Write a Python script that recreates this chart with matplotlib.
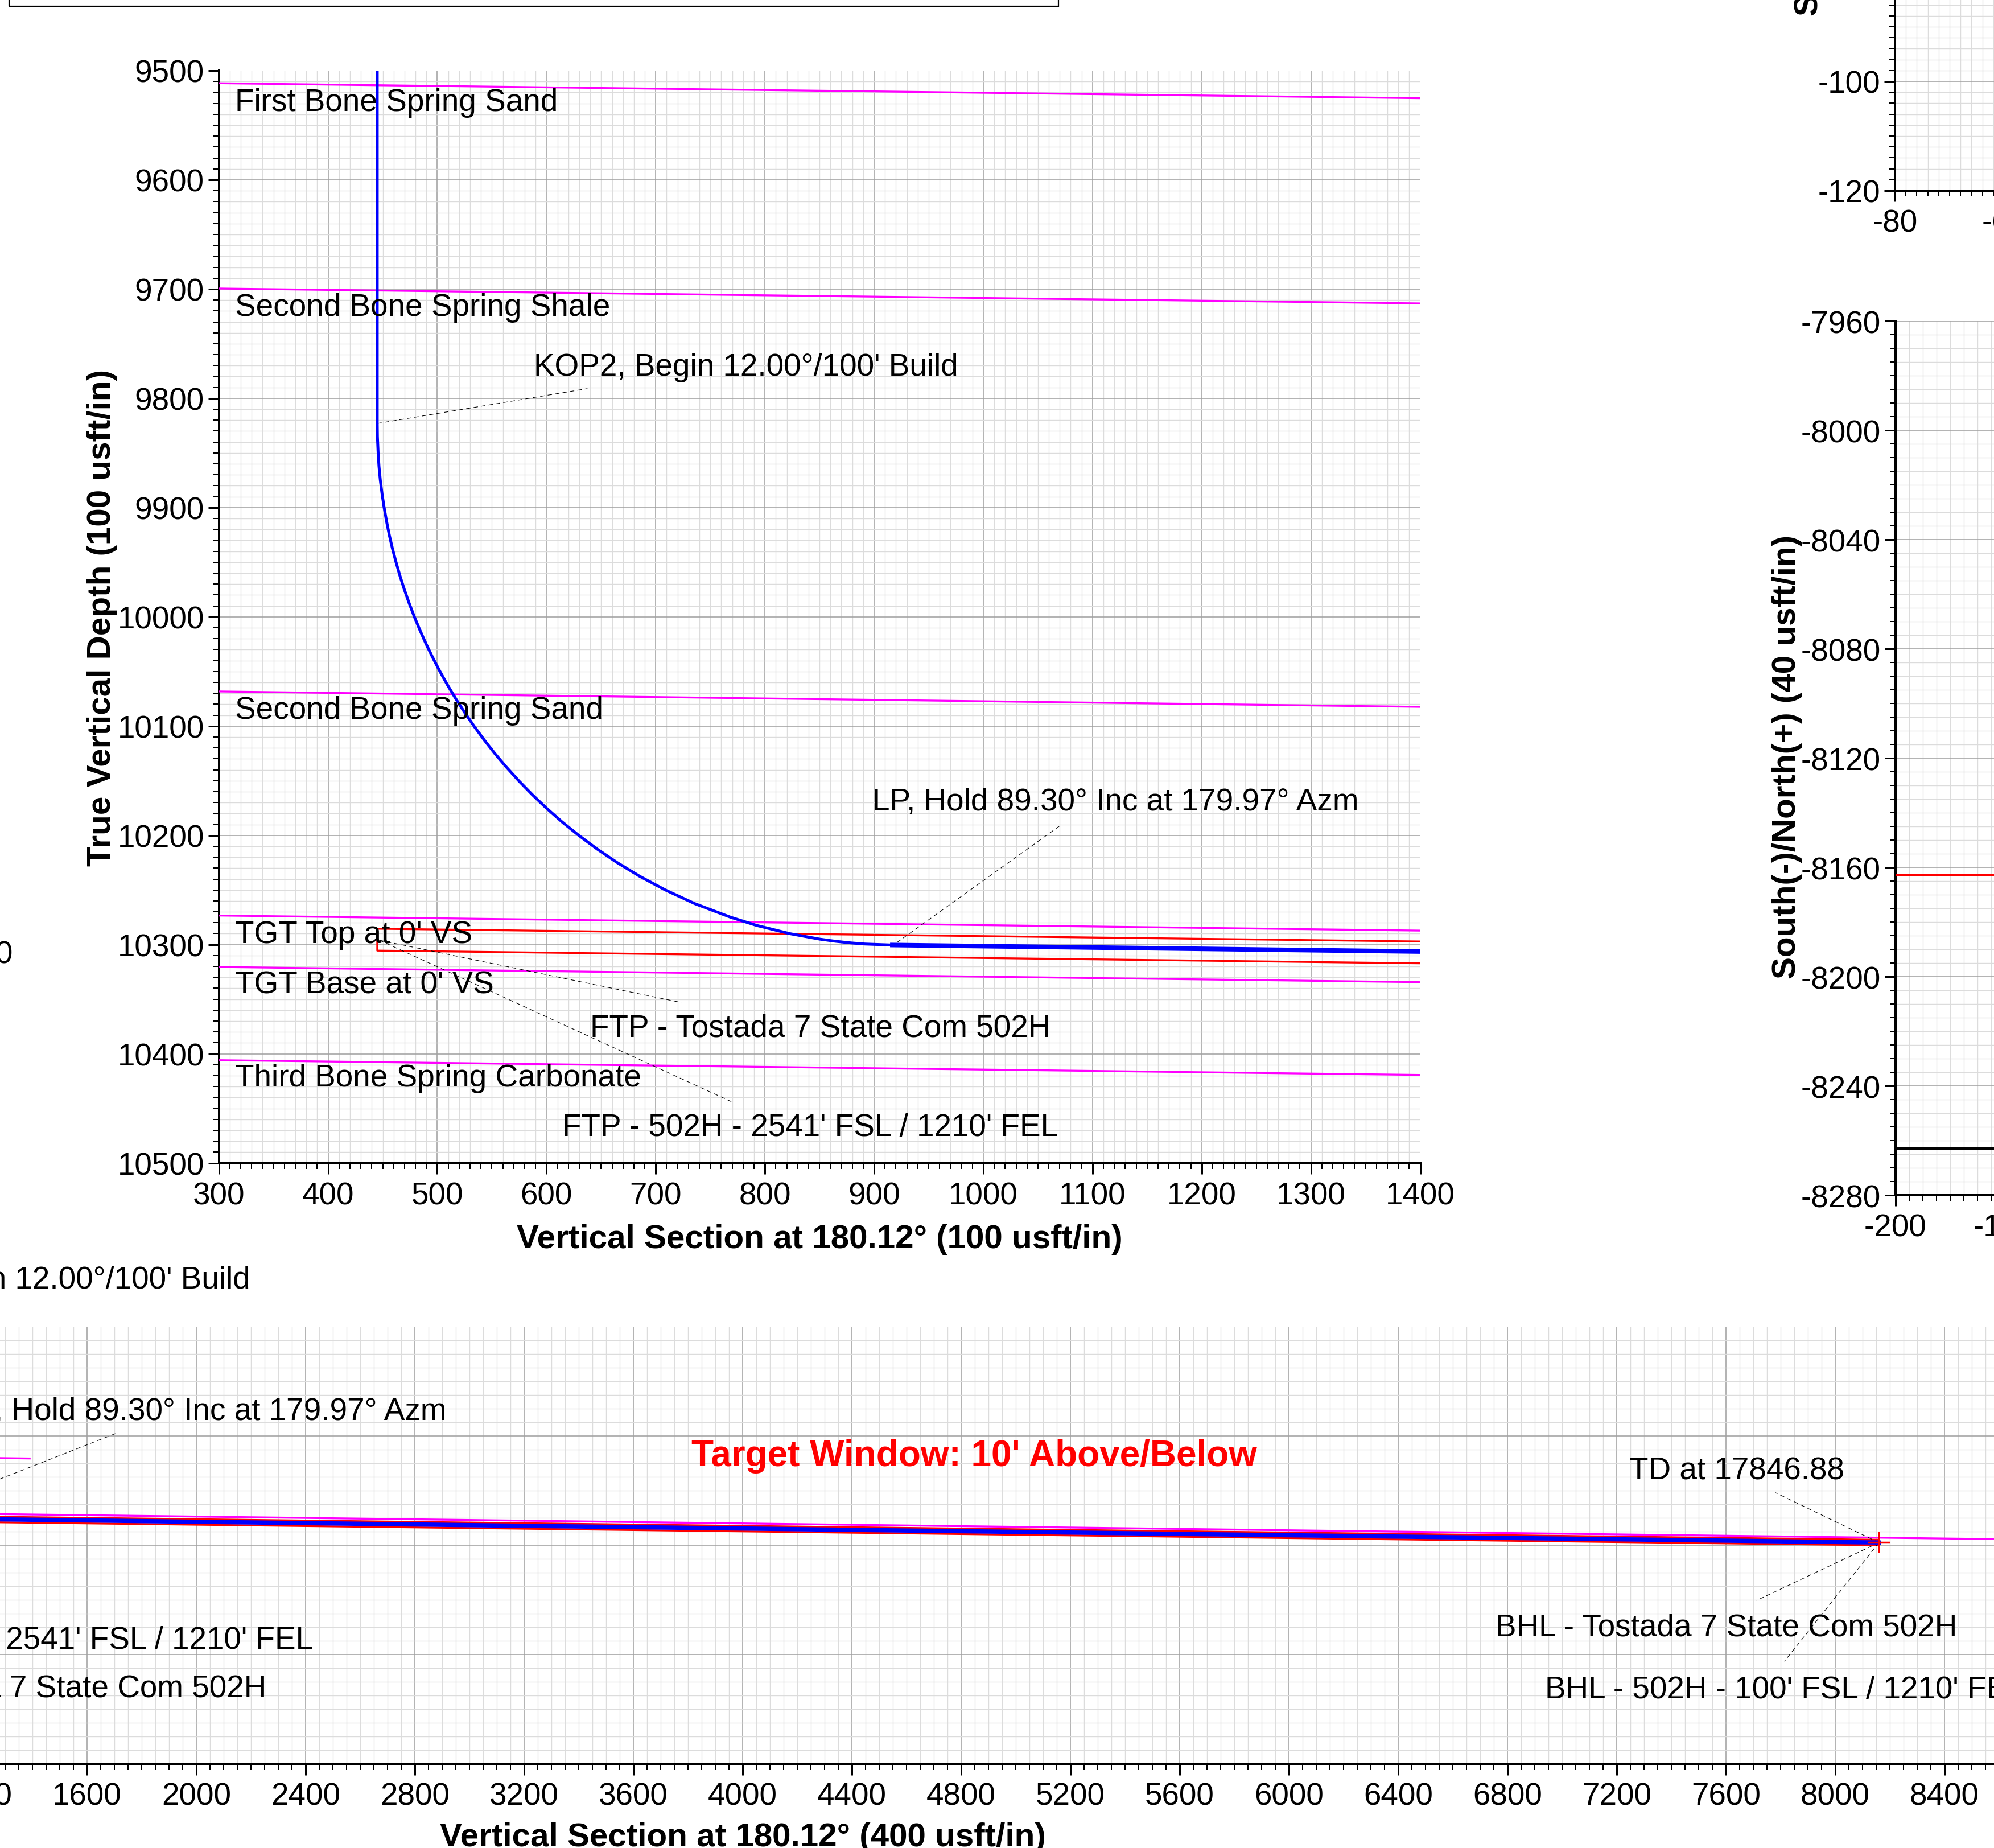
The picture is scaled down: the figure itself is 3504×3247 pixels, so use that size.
import matplotlib
matplotlib.use('Agg')
import matplotlib.pyplot as plt
from matplotlib.ticker import MultipleLocator
from matplotlib.patches import Rectangle
from matplotlib.transforms import offset_copy

plt.rcParams['font.family'] = ['Liberation Sans', 'DejaVu Sans']
plt.rcParams['font.size'] = 39.5
plt.rcParams['axes.unicode_minus'] = False

W, H = 3504, 3248
PX = 0.72  # points per pixel at dpi 100
TXT_DY = -4.5  # small downward nudge for the labels, in pixels

# ---- well path: vertical section (ft) vs TVD (ft)
wp_vs = [445, 445, 445.15, 445.8, 446.6, 447.8, 449.4, 451.3, 453.5, 456, 458.9, 462.2, 465.8,
         469.8, 474.2, 479, 484.2, 489.8, 495.9, 502.4, 509.4, 516.9, 525, 533.6, 542.8,
         552.6, 563.2, 574.5, 586.7, 599.8, 614, 629.5, 646.3, 664.8, 685.4, 708.8, 735.8,
         768.7, 792.6, 822.9, 850.2, 864.8, 879, 891.6, 916.7]
wp_tvd = [9400, 9823, 9835, 9850, 9862.5, 9875, 9887.5, 9900, 9912.5, 9925, 9937.5, 9950, 9962.5,
          9975, 9987.5, 10000, 10012.5, 10025, 10037.5, 10050, 10062.5, 10075, 10087.5, 10100, 10112.5,
          10125, 10137.5, 10150, 10162.5, 10175, 10187.5, 10200, 10212.5, 10225, 10237.5, 10250, 10262.5,
          10275, 10282.5, 10290, 10295, 10297, 10298.5, 10299.5, 10300.4]
hold_vs = [916.7, 8160]
hold_tvd = [10300.4, 10389.6]

# ---- formation tops, TVD at VS 300 and VS 1400
fm_names = ['First Bone Spring Sand', 'Second Bone Spring Shale', 'Second Bone Spring Sand',
            'TGT Top at 0\' VS', 'TGT Base at 0\' VS', 'Third Bone Spring Carbonate']
fm_tvd_300 = [9511.6, 9699.5, 10068.3, 10273.4, 10320.5, 10405.8]
fm_tvd_1400 = [9525.3, 9713.1, 10082.4, 10287.2, 10334.4, 10419.3]
fm_label_tvd = [9526.8, 9714.3, 10083.3, 10288.2, 10334.8, 10419.8]

# formations shown on the long section
tgt_top_vs = [300, 8600]
tgt_top_tvd = [10273.4, 10377.4]
sbs_sand_vs = [300, 1390]
sbs_sand_tvd = [10068.3, 10082.2]

# target window (10' above / below)
tw_vs = [8160, 445, 445, 8160]
tw_tvd = [10379.6, 10285.5, 10305.5, 10399.6]
td_vs, td_tvd = 8160, 10390

# section lines on the plan view (N/S)
ns_red = -8163
ns_black = -8263

# ---- annotations: text, text x, text y, ha, leader start (x, y), leader end (x, y)
main_notes = [
    ("KOP2, Begin 12.00°/100' Build", 588.6, 9769, 'left', (445, 9823), (637.5, 9791.1)),
    ("LP, Hold 89.30° Inc at 179.97° Azm", 898.4, 10167.1, 'left', (921, 10298), (1069.6, 10191.6)),
    ("FTP - Tostada 7 State Com 502H", 639.9, 10374.3, 'left', (447, 10296), (723.3, 10353)),
    ("FTP - 502H - 2541' FSL / 1210' FEL", 614.3, 10465, 'left', (447, 10296), (769.2, 10443.7)),
]
long_notes = [
    ("KOP2, Begin 12.00°/100' Build", 2198, 9420.8, 'right', None, None),
    ("LP, Hold 89.30° Inc at 179.97° Azm", 2914.6, 9900, 'right', (916.7, 10300.4), (1708, 9989.6)),
    ("TD at 17846.88", 7245.8, 10118.8, 'left', (8160, 10390), (7781, 10207.3)),
    ("BHL - Tostada 7 State Com 502H", 6756, 10691.7, 'left', (8160, 10390), (7712, 10601.5)),
    ("BHL - 502H - 100' FSL / 1210' FEL", 6937.5, 10918.8, 'left', (8160, 10390), (7813.8, 10824.4)),
    ("FTP - 502H - 2541' FSL / 1210' FEL", 2427, 10737.5, 'right', None, None),
    ("FTP - Tostada 7 State Com 502H", 2258, 10914.6, 'right', None, None),
]

MAG, RED, BLUE = '#ff00ff', '#ff0000', '#0000ff'


def rect(x0, y0, x1, y1):
    return [x0 / W, 1 - y1 / H, (x1 - x0) / W, (y1 - y0) / H]


def style_axes(ax, major, minor, xmajor=None, xminor=None):
    ax.set_axisbelow(True)
    ax.xaxis.set_major_locator(MultipleLocator(xmajor or major))
    ax.xaxis.set_minor_locator(MultipleLocator(xminor or minor))
    ax.yaxis.set_major_locator(MultipleLocator(major))
    ax.yaxis.set_minor_locator(MultipleLocator(minor))
    ax.grid(which='major', color='#a2a2a2', lw=1.6 * PX)
    ax.grid(which='minor', color='#dcdcdc', lw=1.4 * PX)
    for s in ['top', 'right']:
        ax.spines[s].set_visible(False)
    for s in ['left', 'bottom']:
        ax.spines[s].set_linewidth(4 * PX)
    ax.tick_params(which='major', length=19 * PX, width=3 * PX, direction='out')
    ax.tick_params(which='minor', length=10 * PX, width=2 * PX, direction='out')
    ax.tick_params(axis='y', which='major', pad=5)
    ax.tick_params(axis='x', which='major', pad=9)


def leader(ax, p0, p1):
    ax.plot([p0[0], p1[0]], [p0[1], p1[1]], color='black', lw=1.1 * PX,
            dashes=(7, 5), zorder=4)


def tr(ax):
    return offset_copy(ax.transData, fig=fig, y=TXT_DY, units='dots')


fig = plt.figure(figsize=(W / 100, H / 100), dpi=100)
ftr = offset_copy(fig.transFigure, fig=fig, y=TXT_DY, units='dots')

# title box at the top
fig.add_artist(Rectangle((16 / W, 1 - 12 / H), (1860 - 16) / W, 40 / H,
                         transform=fig.transFigure, fill=False, lw=2.2 * PX, ec='black'))

# ---------- main vertical section (100 usft/in)
ax = fig.add_axes(rect(384.7, 125, 2495.5, 2044.6))
ax.set_xlim(300, 1400)
ax.set_ylim(10500, 9500)
style_axes(ax, 100, 10)

for name, t0, t1, ty in zip(fm_names, fm_tvd_300, fm_tvd_1400, fm_label_tvd):
    ax.plot([300, 1400], [t0, t1], color=MAG, lw=3.3 * PX, zorder=3)
    ax.text(315, ty, name, ha='left', va='center', zorder=6, transform=tr(ax))

ax.plot(tw_vs, tw_tvd, color=RED, lw=3.3 * PX, zorder=3)
ax.plot(wp_vs, wp_tvd, color=BLUE, lw=5 * PX, zorder=5, solid_joinstyle='round')
ax.plot(hold_vs, hold_tvd, color=BLUE, lw=8 * PX, zorder=5)

for s, tx, ty, ha, p0, p1 in main_notes:
    ax.text(tx, ty, s, ha=ha, va='center', zorder=6, transform=tr(ax))
    leader(ax, p0, p1)

fig.text(179 / W, 1 - 1085 / H, 'True Vertical Depth (100 usft/in)', rotation=90,
         ha='center', va='center', fontsize=42, weight='bold')
fig.text(1440 / W, 1 - 2174 / H, 'Vertical Section at 180.12° (100 usft/in)',
         ha='center', va='center', fontsize=42, weight='bold', transform=ftr)

# cut-off tick label of the panel on the left
fig.text(23 / W, 1 - 1674 / H, '10300', ha='right', va='center', transform=ftr)

# ---------- long vertical section (400 usft/in)
axb = fig.add_axes(rect(-39, 2332, 3609, 3100.5))
axb.set_xlim(1200, 8800)
axb.set_ylim(11200, 9600)
style_axes(axb, 400, 50)

axb.plot(sbs_sand_vs, sbs_sand_tvd, color=MAG, lw=3.3 * PX, zorder=3)
axb.plot(tgt_top_vs, tgt_top_tvd, color=MAG, lw=3.3 * PX, zorder=3)
axb.plot(tw_vs, tw_tvd, color=RED, lw=3.3 * PX, zorder=3)
axb.plot(wp_vs, wp_tvd, color=BLUE, lw=7.5 * PX, zorder=5)
axb.plot(hold_vs, hold_tvd, color=BLUE, lw=7.5 * PX, zorder=5)
axb.plot([td_vs], [td_tvd], marker='+', ms=38 * PX, mew=2.5 * PX, color=RED, zorder=6)

for s, tx, ty, ha, p0, p1 in long_notes:
    axb.text(tx, ty, s, ha=ha, va='center', zorder=6, transform=tr(axb))
    if p0 is not None:
        leader(axb, p0, p1)

axb.text(4848, 10062.5, "Target Window: 10' Above/Below", ha='center', va='center',
         color=RED, fontsize=46, weight='bold', zorder=6, transform=tr(axb))
fig.text(1305 / W, 1 - 3225 / H, 'Vertical Section at 180.12° (400 usft/in)',
         ha='center', va='center', fontsize=42, weight='bold', transform=ftr)

# ---------- plan view pieces on the right
axr = fig.add_axes(rect(3330.6, 565, 3810.6, 2101))
axr.set_xlim(-200, -100)
axr.set_ylim(-8280, -7960)
style_axes(axr, 40, 5)
axr.axhline(ns_red, color=RED, lw=4 * PX, zorder=3)
axr.axhline(ns_black, color='black', lw=6 * PX, zorder=3)
fig.text(3140 / W, 1 - 1330 / H, 'South(-)/North(+) (40 usft/in)', rotation=90,
         ha='center', va='center', fontsize=42, weight='bold')

axu = fig.add_axes(rect(3330, -48, 3714, 336))
axu.set_xlim(-80, -40)
axu.set_ylim(-120, -80)
style_axes(axu, 20, 2)
fig.text(3179 / W, 1 - 28 / H, 'South(-)/North(+) (20 usft/in)', rotation=90,
         ha='center', va='bottom', fontsize=42, weight='bold')

fig.savefig('out.png', dpi=100)
